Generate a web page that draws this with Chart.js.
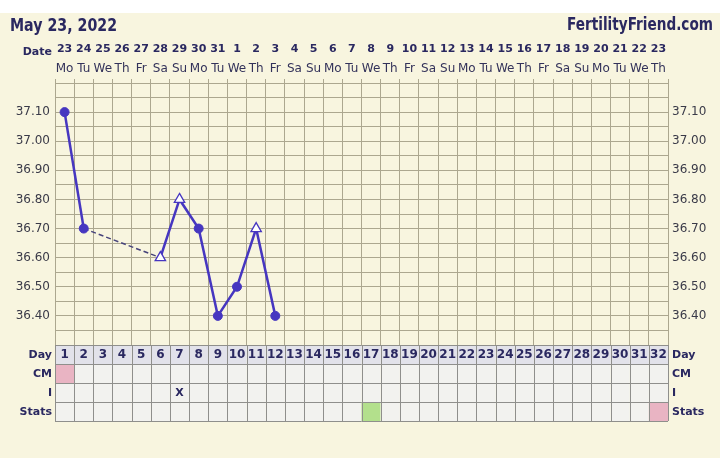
<!DOCTYPE html>
<html>
<head>
<meta charset="utf-8">
<title>Fertility chart</title>
<script src="https://cdn.jsdelivr.net/npm/chart.js@4.4.1/dist/chart.umd.min.js"></script>
<style>
  html, body { margin: 0; padding: 0; background: #fff; }
  #wrap { width: 720px; height: 458px; }
</style>
</head>
<body>
<div id="wrap"><canvas id="chart" width="720" height="458"></canvas></div>
<script>
// chart data
const chartDate = 'May 23, 2022';
const siteName = 'FertilityFriend.com';
const dateLabels = ['23','24','25','26','27','28','29','30','31','1','2','3','4','5','6','7',
                    '8','9','10','11','12','13','14','15','16','17','18','19','20','21','22','23'];
const dowLabels = ['Mo','Tu','We','Th','Fr','Sa','Su','Mo','Tu','We','Th','Fr','Sa','Su','Mo','Tu',
                   'We','Th','Fr','Sa','Su','Mo','Tu','We','Th','Fr','Sa','Su','Mo','Tu','We','Th'];
const tempDays = [1, 2, 6, 7, 8, 9, 10, 11, 12];
const temps = [37.10, 36.70, 36.60, 36.80, 36.70, 36.40, 36.50, 36.70, 36.40];
const openPoint = [false, false, true, true, false, false, false, true, false];
const rowLabels = ['Day', 'CM', 'I', 'Stats'];
const cmPinkDays = [1];
const intercourseDays = [7];
const statsGreenDays = [17];
const statsPinkDays = [32];

const cream = '#f8f5df';
const navy = '#2a2860';
const purple = '#4636c0';
const gridColor = '#aca78f';
const tableLine = '#8f8f8c';

Chart.defaults.font.family = '"DejaVu Sans", Verdana, sans-serif';

function isGap(ctx) {
    return tempDays[ctx.p1DataIndex] - tempDays[ctx.p0DataIndex] > 1;
}

function tempLabel(v) {
    const r = Math.round(v * 100);
    if (r % 10 !== 0 || r <= 3630 || r >= 3720) return '';
    return (r / 100).toFixed(2);
}

const sheet = {
    id: 'sheet',
    beforeDraw(chart) {
        const c = chart.ctx;
        c.save();
        c.fillStyle = '#ffffff';
        c.fillRect(0, 0, chart.width, chart.height);
        c.fillStyle = cream;
        c.fillRect(0, 13, chart.width, chart.height - 13);

        c.fillStyle = navy;
        c.font = 'bold 17px "DejaVu Sans"';
        c.textBaseline = 'alphabetic';
        c.textAlign = 'left';
        c.fillText(chartDate, 10, 31, 107);
        c.textAlign = 'right';
        c.fillText(siteName, 713, 30, 146);

        c.font = 'bold 11px "DejaVu Sans"';
        c.textBaseline = 'middle';
        c.fillText('Date', 52, 52.5);
        c.restore();
    },
    afterDraw(chart) {
        const c = chart.ctx;
        const x = chart.scales.x;
        const area = chart.chartArea;
        const rowH = 19;
        const n = dateLabels.length;
        c.save();
        // cells
        rowLabels.forEach((lab, r) => {
            const top = area.bottom + r * rowH;
            for (let d = 1; d <= n; d++) {
                const l = x.getPixelForValue(d - 0.5);
                const rt = x.getPixelForValue(d + 0.5);
                let fill = r === 0 ? '#e2e2ea' : '#f2f2ef';
                if (r === 1 && cmPinkDays.includes(d)) fill = '#e9b4c3';
                if (r === 3 && statsGreenDays.includes(d)) fill = '#b3e08c';
                if (r === 3 && statsPinkDays.includes(d)) fill = '#e9b4c3';
                c.fillStyle = fill;
                c.fillRect(l, top, rt - l, rowH);
            }
        });
        // lines
        c.strokeStyle = tableLine;
        c.lineWidth = 1;
        c.beginPath();
        for (let r = 0; r <= rowLabels.length; r++) {
            const y = Math.round(area.bottom + r * rowH) + 0.5;
            c.moveTo(area.left, y);
            c.lineTo(area.right, y);
        }
        for (let d = 0; d <= n; d++) {
            const px = Math.round(x.getPixelForValue(d + 0.5)) + 0.5;
            c.moveTo(px, area.bottom);
            c.lineTo(px, area.bottom + rowLabels.length * rowH);
        }
        c.stroke();

        // texts
        c.fillStyle = navy;
        c.textBaseline = 'middle';
        c.font = 'bold 11px "DejaVu Sans"';
        rowLabels.forEach((lab, r) => {
            const cy = area.bottom + r * rowH + rowH / 2 + 0.5;
            c.textAlign = 'right';
            c.fillText(lab, area.left - 3, cy);
            c.textAlign = 'left';
            c.fillText(lab, area.right + 4, cy);
        });
        c.textAlign = 'center';
        c.font = 'bold 12px "DejaVu Sans"';
        for (let d = 1; d <= n; d++) {
            c.fillText(String(d), x.getPixelForValue(d), area.bottom + rowH / 2 + 0.5);
        }
        c.font = 'bold 11px "DejaVu Sans"';
        intercourseDays.forEach(d => {
            c.fillText('X', x.getPixelForValue(d), area.bottom + 2 * rowH + rowH / 2 + 0.5);
        });
        c.restore();
    }
};

const topAxis = (labels, weight, height, pad, font, color) => ({
    type: 'linear',
    position: 'top',
    weight: weight,
    min: 0.5,
    max: 32.5,
    grid: { display: false, drawTicks: false },
    border: { display: false },
    ticks: {
        stepSize: 1,
        autoSkip: false,
        maxRotation: 0,
        padding: pad,
        color: color,
        font: font,
        callback: v => labels[Math.round(v) - 1] || ''
    },
    afterBuildTicks: s => { s.ticks = labels.map((_, i) => ({ value: i + 1 })); },
    afterFit: s => { s.height = height; }
});

new Chart(document.getElementById('chart'), {
    type: 'line',
    data: {
        datasets: [{
            data: tempDays.map((d, i) => ({ x: d, y: temps[i] })),
            borderColor: purple,
            borderWidth: 2.5,
            pointStyle: openPoint.map(o => o ? 'triangle' : 'circle'),
            pointRadius: openPoint.map(o => o ? 6 : 4.5),
            pointBackgroundColor: openPoint.map(o => o ? '#ffffff' : purple),
            pointBorderColor: purple,
            pointBorderWidth: openPoint.map(o => o ? 1.3 : 1),
            tension: 0,
            segment: {
                borderDash: ctx => isGap(ctx) ? [5, 3] : undefined,
                borderWidth: ctx => isGap(ctx) ? 1.5 : undefined,
                borderColor: ctx => isGap(ctx) ? '#46437a' : undefined
            }
        }]
    },
    options: {
        responsive: false,
        animation: false,
        events: [],
        layout: { padding: { top: 38, left: 6, right: 5, bottom: 113 } },
        plugins: { legend: { display: false }, tooltip: { enabled: false } },
        scales: {
            x: {
                type: 'linear',
                position: 'top',
                weight: 1,
                min: 0.5,
                max: 32.5,
                ticks: { display: false, stepSize: 1, autoSkip: false },
                grid: { color: gridColor, tickLength: 4, drawTicks: true },
                border: { color: gridColor },
                afterFit: s => { s.height = 4; }
            },
            xDow: topAxis(dowLabels, 2, 21, 3, { size: 12 }, '#33325a'),
            xDate: topAxis(dateLabels, 3, 20, 2, { size: 11, weight: 'bold' }, navy),
            y: {
                position: 'left',
                min: 36.3,
                max: 37.2,
                ticks: { stepSize: 0.05, autoSkip: false, padding: 5, color: '#3a3a48', font: { size: 12 }, callback: tempLabel },
                grid: { color: gridColor, drawTicks: false },
                border: { color: gridColor },
                afterFit: s => { s.width = 49; }
            },
            y2: {
                position: 'right',
                min: 36.3,
                max: 37.2,
                ticks: { stepSize: 0.05, autoSkip: false, padding: 4, color: '#3a3a48', font: { size: 12 }, callback: tempLabel },
                grid: { display: false, drawTicks: false },
                border: { display: false },
                afterFit: s => { s.width = 47; }
            }
        }
    },
    plugins: [sheet]
});
</script>
</body>
</html>
